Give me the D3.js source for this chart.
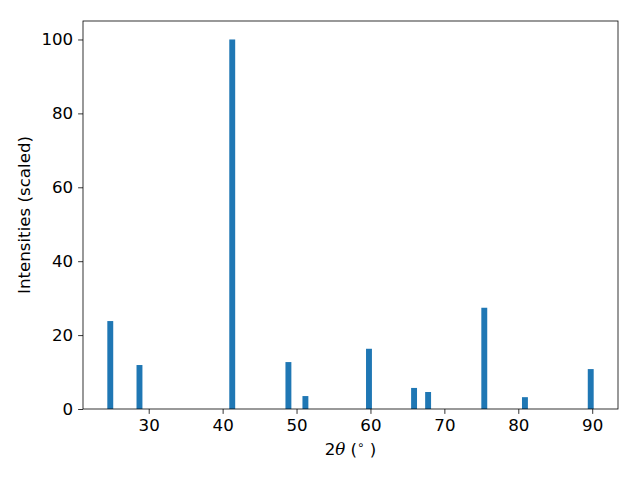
<!DOCTYPE html>
<html>
<head>
<meta charset="utf-8">
<script src="https://cdn.jsdelivr.net/npm/d3@7"></script>
<style>
  body { margin: 0; background: #fff; }
  text { font-family: "DejaVu Sans", sans-serif; }
</style>
</head>
<body>
<div id="chart"></div>
<script>
'use strict'

var outerWidth = 640;
var outerHeight = 480;
var margin = {top: 21, right: 22, bottom: 71, left: 83};
var barColor = '#1f77b4';
var fontSize = 16.67;

// peak positions (2theta, degrees) and scaled intensities
var twoTheta = [24.8, 28.75, 41.3, 48.9, 51.2, 59.8, 65.9, 67.8, 75.4, 80.9, 89.8];
var intensity = [23.8, 11.9, 100, 12.7, 3.5, 16.3, 5.7, 4.6, 27.4, 3.2, 10.8];
var xTicks = [30, 40, 50, 60, 70, 80, 90];
var yTicks = [0, 20, 40, 60, 80, 100];
var barWidth = 0.8;

var data = twoTheta.map(function(x, i){ return {x: x, y: intensity[i]}; });

var innerWidth = outerWidth - margin.left - margin.right;
var innerHeight = outerHeight - margin.top - margin.bottom;

var svg = d3.select('#chart').append('svg')
  .attr('width', outerWidth)
  .attr('height', outerHeight);

var g = svg.append('g')
  .attr('transform', 'translate(' + margin.left + ',' + margin.top + ')');

// matplotlib style 5% padding around the bars
var xMin = d3.min(data, function(d){ return d.x - barWidth / 2; });
var xMax = d3.max(data, function(d){ return d.x + barWidth / 2; });
var pad = (xMax - xMin) * 0.05;

var xScale = d3.scaleLinear()
  .domain([xMin - pad, xMax + pad])
  .range([0, innerWidth]);

var yScale = d3.scaleLinear()
  .domain([0, 105])
  .range([innerHeight, 0]);

g.selectAll('rect.bar').data(data)
  .enter().append('rect')
    .attr('class', 'bar')
    .attr('x', function(d){ return xScale(d.x - barWidth / 2); })
    .attr('width', function(d){ return xScale(d.x + barWidth / 2) - xScale(d.x - barWidth / 2); })
    .attr('y', function(d){ return yScale(d.y); })
    .attr('height', function(d){ return yScale(0) - yScale(d.y); })
    .attr('fill', barColor);

// axes
var xAxis = g.append('g')
  .attr('transform', 'translate(0,' + innerHeight + ')')
  .call(d3.axisBottom(xScale).tickValues(xTicks).tickSize(4.9).tickPadding(4.9));

var yAxis = g.append('g')
  .call(d3.axisLeft(yScale).tickValues(yTicks).tickSize(4.9).tickPadding(4.9));

[xAxis, yAxis].forEach(function(a){
  a.attr('font-size', fontSize).attr('font-family', '"DejaVu Sans", sans-serif');
  a.select('.domain').remove();
  a.selectAll('line').attr('stroke', '#000').attr('stroke-width', 0.8);
  a.selectAll('text').attr('fill', '#000');
});

// frame
g.append('rect')
  .attr('width', innerWidth)
  .attr('height', innerHeight)
  .attr('fill', 'none')
  .attr('stroke', '#000')
  .attr('stroke-width', 0.8);

// axis labels
var xl = svg.append('text')
  .attr('x', margin.left + innerWidth / 2)
  .attr('y', 455)
  .attr('text-anchor', 'middle')
  .attr('font-size', fontSize)
  .attr('fill', '#000');
xl.append('tspan').text('2');
xl.append('tspan').attr('font-style', 'italic').attr('font-family', '"DejaVu Serif", serif').text('θ');
xl.append('tspan').text(' (');
xl.append('tspan').attr('font-size', 12).attr('dy', -6).text('∘');
xl.append('tspan').attr('dy', 6).text(' )');

svg.append('text')
  .attr('transform', 'translate(30,' + (margin.top + innerHeight / 2) + ') rotate(-90)')
  .attr('text-anchor', 'middle')
  .attr('font-size', fontSize)
  .attr('fill', '#000')
  .text('Intensities (scaled)');
</script>
</body>
</html>
